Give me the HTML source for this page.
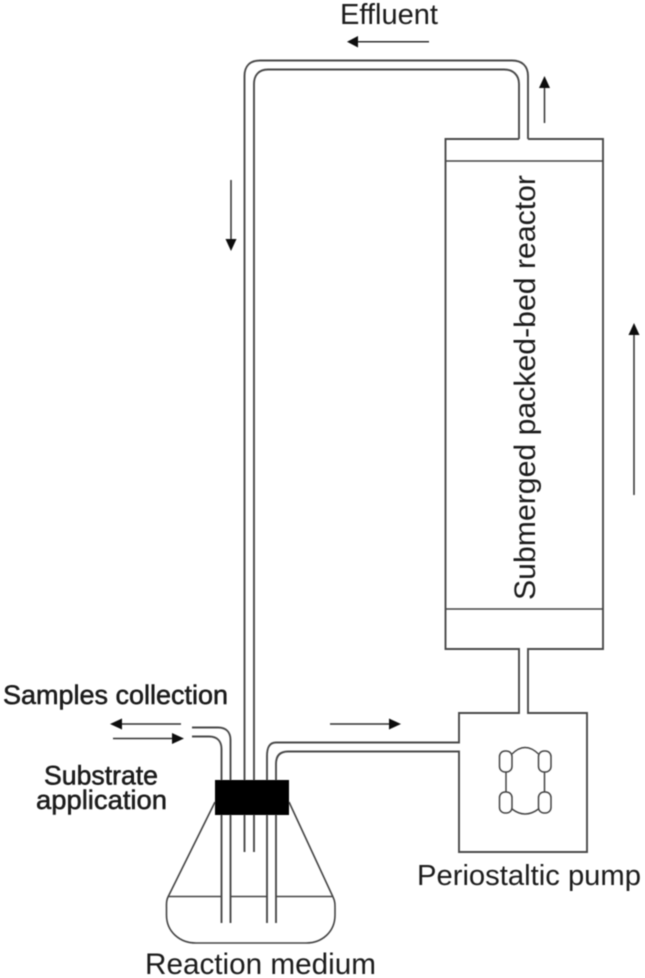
<!DOCTYPE html>
<html>
<head>
<meta charset="utf-8">
<style>
html,body{margin:0;padding:0;background:#fff;}
svg{display:block;}
text{font-family:"Liberation Sans",Arial,sans-serif;fill:#1a1a1a;}
.l{fill:none;stroke:#444;stroke-width:1.6;}
.r{fill:none;stroke:#4a4a4a;stroke-width:1.9;}
.a{fill:none;stroke:#333;stroke-width:1.5;}
</style>
</head>
<body>
<svg width="645" height="978" viewBox="0 0 645 978" xmlns="http://www.w3.org/2000/svg">
<defs><filter id="b" x="0" y="0" width="100%" height="100%"><feGaussianBlur stdDeviation="0.45"/></filter></defs>
<g filter="url(#b)">

<!-- Reactor -->
<path class="r" d="M519 139H445.500V649H519V713H459V742.500H276C268 742.500 267 750 267 756V780"/>
<path class="r" d="M528 139H603V649H528V713H587V852H459V751.500H288C279 751.500 276 757 276 764V780"/>
<path class="l" d="M446 161H603M446 609H603"/>

<!-- Top tube -->
<path class="r" d="M528 139V76C528 66 522 60.500 512 60.500H260C250 60.500 244.500 66 244.500 76V852"/>
<path class="r" d="M519 139V84C519 75 513 69.500 504 69.500H268C259 69.500 254 75 254 84V852"/>

<!-- Sample tubes -->
<path class="r" d="M192 727.500H218C226 727.500 230.500 732 230.500 740V923"/>
<path class="r" d="M192 736.500H209C217 736.500 221.500 741 221.500 749V923"/>

<!-- Pump tube continuing down -->
<path class="r" d="M267 780V923M276 780V923"/>

<!-- Flask -->
<path class="l" d="M215 802L168 897C166 901 166.500 904 166.500 908V915C166.500 932 180 943 196 943H306C322 943 335 932 335 915V908C335 904 335 901 333 897L289 802"/>
<path class="l" d="M168 896.500H221M231 896.500H267M276 896.500H333"/>

<!-- Stopper -->
<rect x="215" y="780" width="74" height="35" fill="#000"/>

<!-- Pump icon -->
<g fill="none" stroke="#444" stroke-width="1.5">
<rect x="499.500" y="751" width="12.500" height="21" rx="5.500"/>
<rect x="538.500" y="751" width="12.500" height="21" rx="5.500"/>
<rect x="499.500" y="792" width="12.500" height="21" rx="5.500"/>
<rect x="538.500" y="792" width="12.500" height="21" rx="5.500"/>
<path d="M506 772V792M544.500 772V792"/>
<path d="M512 754Q525 741 538.500 754"/>
<path d="M512 809Q525 819 538.500 809"/>
</g>

<!-- Arrows -->
<path class="a" d="M429 41.700H357"/><path d="M347 41.700L358 36V47.500Z" fill="#111"/>
<path class="a" d="M544.500 123V87"/><path d="M544.500 76L539 88H550Z" fill="#111"/>
<path class="a" d="M231 180V240"/><path d="M231 251L225.500 239H236.500Z" fill="#111"/>
<path class="a" d="M634 495V334"/><path d="M634 323L628.500 335H639.500Z" fill="#111"/>
<path class="a" d="M330 724H390"/><path d="M401 724L389 718.500V729.500Z" fill="#111"/>
<path class="a" d="M181 724H120"/><path d="M110 724L122 718.500V729.500Z" fill="#111"/>
<path class="a" d="M113 738.500H174"/><path d="M184 738.500L172 733V744Z" fill="#111"/>

<!-- Labels -->
<text x="340" y="24" font-size="29" textLength="98" lengthAdjust="spacingAndGlyphs">Effluent</text>
<text x="3" y="704" font-size="26.500" textLength="225" lengthAdjust="spacingAndGlyphs" stroke="#1a1a1a" stroke-width="0.5">Samples collection</text>
<text x="44" y="784.500" font-size="26.500" textLength="114" lengthAdjust="spacingAndGlyphs" stroke="#1a1a1a" stroke-width="0.5">Substrate</text>
<text x="36" y="809" font-size="26.500" textLength="131" lengthAdjust="spacingAndGlyphs" stroke="#1a1a1a" stroke-width="0.5">application</text>
<text x="145" y="974" font-size="29.500" textLength="231" lengthAdjust="spacingAndGlyphs">Reaction medium</text>
<text x="417" y="885" font-size="29" textLength="224" lengthAdjust="spacingAndGlyphs">Periostaltic pump</text>
<text transform="translate(535 600) rotate(-90)" font-size="30" textLength="425" lengthAdjust="spacingAndGlyphs">Submerged packed-bed reactor</text>
</g>
</svg>
</body>
</html>
